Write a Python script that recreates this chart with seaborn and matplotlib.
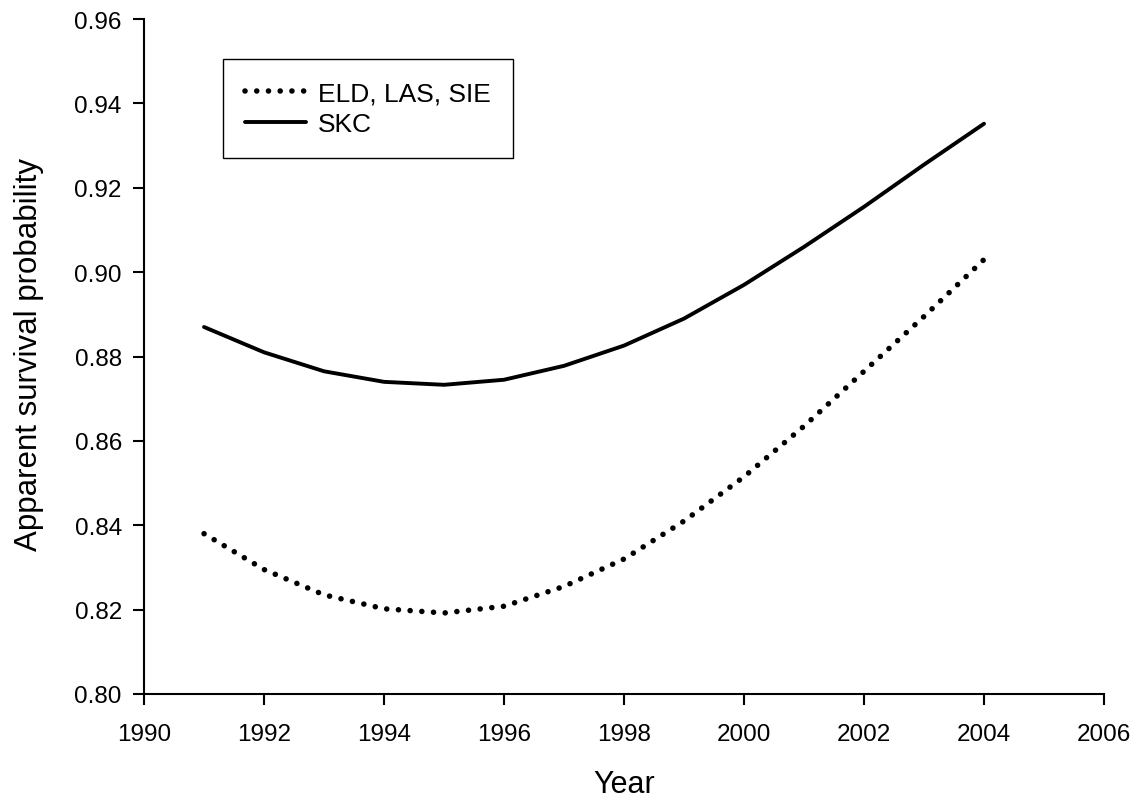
import numpy as np
import pandas as pd
import matplotlib.pyplot as plt
import seaborn as sns

# data
years = [1991, 1992, 1993, 1994, 1995, 1996, 1997, 1998, 1999, 2000, 2001, 2002, 2003, 2004]
eld_las_sie = [0.838, 0.8295, 0.8235, 0.8202, 0.8192, 0.8208, 0.8255, 0.832, 0.841,
               0.8515, 0.8635, 0.8765, 0.8895, 0.903]
skc = [0.887, 0.881, 0.8765, 0.874, 0.8733, 0.8745, 0.8778, 0.8826, 0.889,
       0.897, 0.906, 0.9155, 0.9255, 0.9352]
series_names = ['ELD, LAS, SIE', 'SKC']

df = pd.DataFrame({
    'Year': years * 2,
    'value': eld_las_sie + skc,
    'group': [series_names[0]] * len(years) + [series_names[1]] * len(years),
})

sns.set_style('ticks')
plt.rcParams['font.family'] = ['Liberation Sans', 'DejaVu Sans']
plt.rcParams['text.color'] = 'black'
plt.rcParams['axes.labelcolor'] = 'black'

fig = plt.figure(figsize=(11.37, 8.04), dpi=100)
ax = fig.add_axes([0.1267, 0.1356, 0.8443, 0.8394])

# dotted line: tiny dashes with round caps -> dots
sns.lineplot(data=df[df.group == series_names[0]], x='Year', y='value', ax=ax,
             color='black', lw=4.0, label=series_names[0],
             linestyle=(0, (0.01, 2.1)), dash_capstyle='round')
sns.lineplot(data=df[df.group == series_names[1]], x='Year', y='value', ax=ax,
             color='black', lw=2.8, label=series_names[1])

ax.set_xlim(1990, 2006)
ax.set_ylim(0.80, 0.96)
ax.set_xticks(np.arange(1990, 2007, 2))
yt = np.arange(0.80, 0.961, 0.02)
ax.set_yticks(yt)
ax.set_yticklabels(['%.2f' % v for v in yt])
ax.tick_params(axis='both', labelsize=17.5, length=8, width=1.5, direction='out',
               color='black', labelcolor='black')
ax.tick_params(axis='x', pad=13)
ax.tick_params(axis='y', pad=8)
for s in ['left', 'bottom']:
    ax.spines[s].set_linewidth(1.5)
    ax.spines[s].set_color('black')
sns.despine(ax=ax)

ax.set_xlabel('Year', fontsize=22)
ax.set_ylabel('Apparent survival probability', fontsize=22.5)
ax.xaxis.set_label_coords(0.5005, -0.111)
ax.yaxis.set_label_coords(-0.104, 0.504)

leg = ax.legend(loc='upper left', bbox_to_anchor=(0.082, 0.941), fontsize=19,
                frameon=True, fancybox=False, framealpha=1, edgecolor='black',
                handlelength=2.3, borderpad=0.85, labelspacing=0.25,
                borderaxespad=0, handletextpad=0.45)
leg.get_frame().set_linewidth(1.0)

fig.savefig('out.png', dpi=100)
